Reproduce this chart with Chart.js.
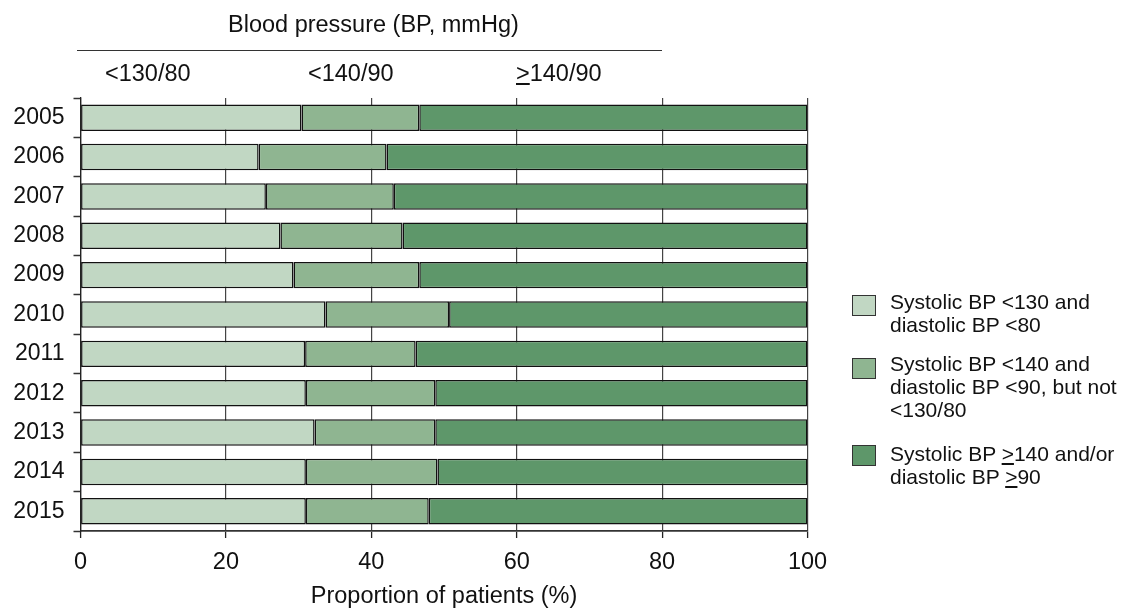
<!DOCTYPE html>
<html>
<head>
<meta charset="utf-8">
<script src="https://cdn.jsdelivr.net/npm/chart.js@4"></script>
<style>
  body { margin: 0; background: #fff; font-family: "Liberation Sans", Arial, sans-serif; color: #111; }
  #wrap { position: relative; width: 1123px; height: 610px; }
  .txt { position: absolute; white-space: nowrap; font-size: 23.5px; line-height: 23px; }
  .leg { position: absolute; left: 890px; font-size: 21px; line-height: 23px; white-space: nowrap; }
  .box { position: absolute; left: 852px; width: 22px; height: 19px; border: 1.5px solid #333; }
</style>
</head>
<body>
<div id="wrap">
  <canvas id="bpChart" width="1123" height="610"></canvas>

  <div class="txt" style="left:228px; top:13px;">Blood pressure (BP, mmHg)</div>
  <div style="position:absolute; left:77px; top:50px; width:585px; border-top:1.5px solid #333;"></div>
  <div class="txt" style="left:105px; top:62px;">&lt;130/80</div>
  <div class="txt" style="left:308px; top:62px;">&lt;140/90</div>
  <div class="txt" style="left:516px; top:62px;"><u>&gt;</u>140/90</div>

  <div class="box" style="top:295px; background:#c1d7c3;"></div>
  <div class="leg" style="top:290px;">Systolic BP &lt;130 and<br>diastolic BP &lt;80</div>
  <div class="box" style="top:358px; background:#8fb591;"></div>
  <div class="leg" style="top:352px;">Systolic BP &lt;140 and<br>diastolic BP &lt;90, but not<br>&lt;130/80</div>
  <div class="box" style="top:445px; background:#5e976a;"></div>
  <div class="leg" style="top:442px;">Systolic BP <u>&gt;</u>140 and/or<br>diastolic BP <u>&gt;</u>90</div>
</div>

<script>
// years and proportions (%)
const years = ['2005', '2006', '2007', '2008', '2009', '2010', '2011', '2012', '2013', '2014', '2015'];
const below130 = [30.4, 24.5, 25.5, 27.5, 29.3, 33.7, 30.9, 31.0, 32.2, 31.0, 31.0];
const below140 = [16.2, 17.6, 17.6, 16.8, 17.3, 17.0, 15.2, 17.8, 16.6, 18.1, 16.9];
const atOrAbove140 = [53.4, 57.9, 56.9, 55.7, 53.4, 49.3, 53.9, 51.2, 51.2, 50.9, 52.1];
const xTicks = [0, 20, 40, 60, 80, 100];

const seriesColors = ['#c1d7c3', '#8fb591', '#5e976a'];

Chart.defaults.font.family = '"Liberation Sans", Arial, sans-serif';
Chart.defaults.color = '#111';

function segment(label, data, color) {
    return {
        label: label,
        data: data,
        backgroundColor: color,
        borderColor: '#111',
        borderWidth: 1.5,
        borderSkipped: false,
        barPercentage: 0.672,
        categoryPercentage: 1
    };
}

new Chart(document.getElementById('bpChart').getContext('2d'), {
    type: 'bar',
    data: {
        labels: years,
        datasets: [
            segment('<130/80', below130, seriesColors[0]),
            segment('<140/90', below140, seriesColors[1]),
            segment('>=140/90', atOrAbove140, seriesColors[2])
        ]
    },
    options: {
        indexAxis: 'y',
        responsive: false,
        animation: false,
        layout: { padding: { top: 98, right: 315.5, left: 0, bottom: 0 } },
        plugins: { legend: { display: false }, tooltip: { enabled: false } },
        scales: {
            x: {
                stacked: true,
                min: 0,
                max: 100,
                afterBuildTicks: scale => { scale.ticks = xTicks.map(v => ({ value: v })); },
                afterFit: scale => { scale.height = 79; },
                ticks: { font: { size: 23.5 }, padding: 10, color: '#111' },
                grid: {
                    color: '#444',
                    lineWidth: 1.2,
                    borderDash: [4.5, 8.6],
                    tickColor: '#222',
                    tickLength: 7,
                    tickWidth: 1.3
                },
                border: { color: '#333', width: 1.8 },
                title: {
                    display: true,
                    text: 'Proportion of patients (%)',
                    font: { size: 23.5, lineHeight: 1.15 },
                    padding: 0,
                    color: '#111'
                }
            },
            y: {
                stacked: true,
                afterFit: scale => { scale.width = 80.5; },
                ticks: { font: { size: 23 }, padding: 9, color: '#111' },
                grid: {
                    offset: true,
                    drawOnChartArea: false,
                    tickColor: '#333',
                    tickLength: 7,
                    tickWidth: 1.5
                },
                border: { color: '#222', width: 1.3 }
            }
        }
    }
});
</script>
</body>
</html>
